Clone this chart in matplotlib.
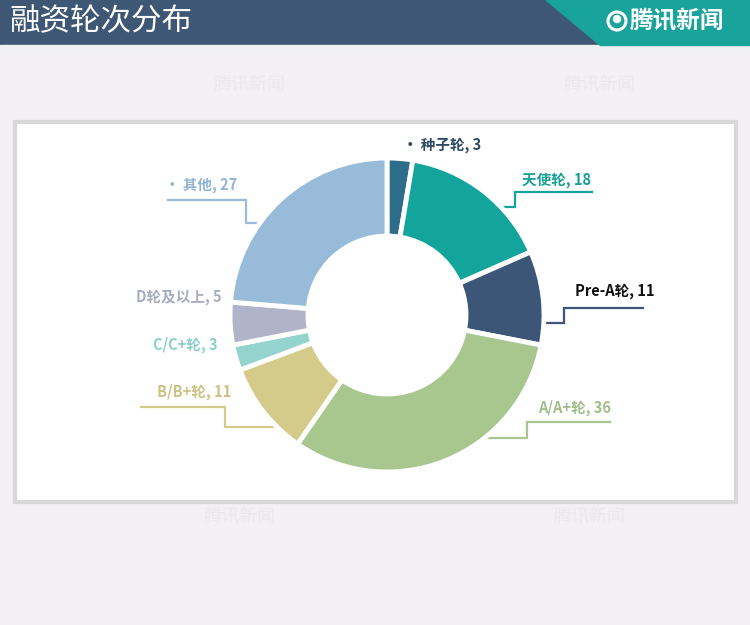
import numpy as np
import matplotlib
matplotlib.use('Agg')
import matplotlib.pyplot as plt
from matplotlib.patches import Rectangle, Polygon, Circle

plt.rcParams['font.family'] = ['Noto Sans CJK SC', 'DejaVu Sans']

# 数据
labels = ['种子轮', '天使轮', 'Pre-A轮', 'A/A+轮', 'B/B+轮', 'C/C+轮', 'D轮及以上', '其他']
values = [3, 18, 11, 36, 11, 3, 5, 27]
colors = ['#2e6d8a', '#13a59c', '#3b5676', '#a7c78f', '#d4cb8b', '#95d3cf', '#b1b4c8', '#98bbd9']
text_colors = ['#2f4a63', '#17a096', '#111111', '#9fbe89', '#cdc283', '#8ccfca', '#a9adc0', '#93b5d5']
title = '融资轮次分布'

W, H = 750, 625
fig = plt.figure(figsize=(7.5, 6.25), dpi=100)
fig.patch.set_facecolor('#f2f0f2')
ax = fig.add_axes([0, 0, 1, 1])


def Y(y):
    # 像素坐标(自上而下) -> 绘图坐标
    return H - y


# 顶部标题栏
ax.add_patch(Rectangle((0, Y(45)), W, 45, color='#3d5774', zorder=1))
ax.add_patch(Polygon([(546, Y(0)), (W, Y(0)), (W, Y(45)), (600, Y(45))],
                     closed=True, color='#18a49a', zorder=2))
ax.add_patch(Rectangle((0, Y(50)), W, 5, color='#eef2f3', zorder=1))
ax.text(9, Y(22), title, color='white', fontsize=22, va='center', ha='left', zorder=3)
ax.add_patch(Circle((617, Y(21)), 9, fill=False, ec='white', lw=2.2, zorder=3))
ax.add_patch(Circle((617, Y(19)), 3.5, color='white', zorder=3))
ax.text(630, Y(21), '腾讯新闻', color='white', fontsize=17, fontweight='bold',
        va='center', ha='left', zorder=3)

# 水印
for wx, wy in [(250, 85), (600, 85), (240, 517), (590, 517)]:
    ax.text(wx, Y(wy), '腾讯新闻', color='#ebe9eb', fontsize=13, ha='center',
            va='center', zorder=1)

# 图表框
ax.add_patch(Rectangle((15, Y(502)), 721, 380, facecolor='white', edgecolor='#d8d8d8',
                       lw=3, zorder=2))

# 环形图
cx, cy, R = 387, 315, 157
ax.pie(values, colors=colors, startangle=90, counterclock=False, radius=R,
       center=(cx, Y(cy)), frame=True,
       wedgeprops=dict(width=78, edgecolor='white', linewidth=3.5, zorder=4))

# 标签: (文本x, 文本y, 对齐, 引导线)
# 引导线: (水平线y, 水平线起点x, 折点x, 连接线y, 方向)
label_specs = [
    (403, 145, 'left', None, '· '),
    (522, 180, 'left', (192, 592, 515, 207, 1), ''),
    (575, 291, 'left', (308, 643, 564, 323, 1), ''),
    (538, 408, 'left', (422, 610, 527, 438, 1), ''),
    (231, 392, 'right', (407, 141, 225, 427, -1), ''),
    (218, 345, 'right', None, ''),
    (222, 297, 'right', None, ''),
    (165, 185, 'left', (200, 168, 246, 223, -1), '· '),
]

for i, (tx, ty, ha, leader, prefix) in enumerate(label_specs):
    ax.text(tx, Y(ty), f'{prefix}{labels[i]}, {values[i]}', color=text_colors[i],
            fontsize=10.5, fontweight='bold', ha=ha, va='center', zorder=5)
    if leader is not None:
        hy, xend, xk, cyy, side = leader
        # 连接线终点落在圆环外缘
        xc = cx + side * np.sqrt(max(R ** 2 - (cyy - cy) ** 2, 0))
        xs = [xend, xk, xk, xc]
        ys = [Y(hy), Y(hy), Y(cyy), Y(cyy)]
        ax.plot(xs, ys, color=colors[i], lw=1.6, zorder=3, solid_joinstyle='miter')

ax.set_xlim(0, W)
ax.set_ylim(0, H)
ax.set_aspect('auto')
ax.axis('off')

fig.savefig('out.png', dpi=100, facecolor=fig.get_facecolor())
